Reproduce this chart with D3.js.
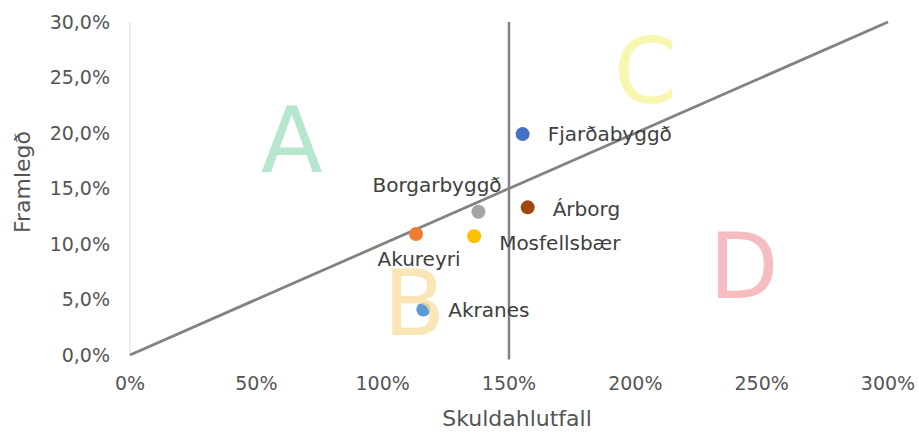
<!DOCTYPE html>
<html>
<head>
<meta charset="utf-8">
<script src="https://cdn.jsdelivr.net/npm/d3@7"></script>
<style>
  body { margin: 0; background: #fff; }
  text { font-family: "DejaVu Sans", sans-serif; }
</style>
</head>
<body>
<div id="chart"></div>
<script>
// municipalities: debt ratio (%) vs. margin (%)
var names = ["Fjarðabyggð", "Borgarbyggð", "Árborg", "Akureyri", "Mosfellsbær", "Akranes"];
var skuldahlutfall = [155.4, 137.9, 157.4, 113.2, 136.2, 116.1];
var framlegd = [19.9, 12.9, 13.3, 10.9, 10.7, 4.1];
var colors = ["#4472C4", "#A5A5A5", "#9E480E", "#ED7D31", "#FFC000", "#5B9BD5"];

var xTicks = [0, 50, 100, 150, 200, 250, 300];
var yTicks = [0, 5, 10, 15, 20, 25, 30];

// dividing lines
var diagX = [0, 300], diagY = [0, 30];
var splitX = 150;

// quadrant letters (baseline position)
var letters = ["A", "B", "C", "D"];
var letterX = [64, 112.5, 204, 243];
var letterY = [16.5, 1.8, 22.7, 5.1];
var letterColors = ["#A6E0C4", "#FADFA2", "#F6F69C", "#F4ADB2"];

var W = 919, H = 434;
var margin = {top: 22, right: 31, bottom: 79, left: 130};

var svg = d3.select("#chart").append("svg")
    .attr("width", W)
    .attr("height", H);

var x = d3.scaleLinear().domain([0, 300]).range([margin.left, W - margin.right]);
var y = d3.scaleLinear().domain([0, 30]).range([H - margin.bottom, margin.top]);

// y axis line
svg.append("line")
    .attr("x1", x(0)).attr("x2", x(0))
    .attr("y1", y(30)).attr("y2", y(0))
    .attr("stroke", "#D9D9D9").attr("stroke-width", 1);

// tick labels
svg.selectAll(".ytick").data(yTicks).enter().append("text")
    .attr("x", 110)
    .attr("y", function(d) { return y(d); })
    .attr("dy", "0.35em")
    .attr("text-anchor", "end")
    .attr("font-size", 19)
    .attr("fill", "#555")
    .text(function(d) { return d.toFixed(1).replace(".", ",") + "%"; });

svg.selectAll(".xtick").data(xTicks).enter().append("text")
    .attr("x", function(d) { return x(d); })
    .attr("y", 383)
    .attr("dy", "0.35em")
    .attr("text-anchor", "middle")
    .attr("font-size", 19)
    .attr("fill", "#555")
    .text(function(d) { return d + "%"; });

// axis titles
svg.append("text")
    .attr("x", 517)
    .attr("y", 418)
    .attr("dy", "0.35em")
    .attr("text-anchor", "middle")
    .attr("font-size", 22)
    .attr("fill", "#555")
    .text("Skuldahlutfall");

svg.append("text")
    .attr("transform", "translate(22,182) rotate(-90)")
    .attr("dy", "0.35em")
    .attr("text-anchor", "middle")
    .attr("font-size", 22)
    .attr("fill", "#555")
    .text("Framlegð");

// reference lines
svg.append("line")
    .attr("x1", x(splitX)).attr("x2", x(splitX))
    .attr("y1", y(30)).attr("y2", y(-0.4))
    .attr("stroke", "#828282").attr("stroke-width", 2.5);

svg.append("line")
    .attr("x1", x(diagX[0])).attr("y1", y(diagY[0]))
    .attr("x2", x(diagX[1])).attr("y2", y(diagY[1]))
    .attr("stroke", "#828282").attr("stroke-width", 2.8);

// points
var pts = names.map(function(n, i) {
    return {name: n, sx: skuldahlutfall[i], fy: framlegd[i], color: colors[i]};
});

svg.selectAll(".dot").data(pts).enter().append("circle")
    .attr("cx", function(d) { return x(d.sx); })
    .attr("cy", function(d) { return y(d.fy); })
    .attr("r", 7)
    .attr("fill", function(d) { return d.color; });

// letters over the points, semi-transparent
svg.selectAll(".letter").data(letters).enter().append("text")
    .attr("x", function(d, i) { return x(letterX[i]); })
    .attr("y", function(d, i) { return y(letterY[i]); })
    .attr("text-anchor", "middle")
    .attr("font-family", "Lato, sans-serif")
    .attr("font-size", 90)
    .attr("fill", function(d, i) { return letterColors[i]; })
    .attr("opacity", 0.8)
    .text(function(d) { return d; });

// data labels (offsets in px from the point)
var labelDx = [25, -106, 25, 3, 25, 25];
var labelDy = [0, -27, 2, 25, 7, 1];
var labelAnchor = ["start", "start", "start", "middle", "start", "start"];

svg.selectAll(".lbl").data(pts).enter().append("text")
    .attr("x", function(d, i) { return x(d.sx) + labelDx[i]; })
    .attr("y", function(d, i) { return y(d.fy) + labelDy[i]; })
    .attr("dy", "0.35em")
    .attr("text-anchor", function(d, i) { return labelAnchor[i]; })
    .attr("font-size", 20)
    .attr("fill", "#404040")
    .text(function(d) { return d.name; });
</script>
</body>
</html>
